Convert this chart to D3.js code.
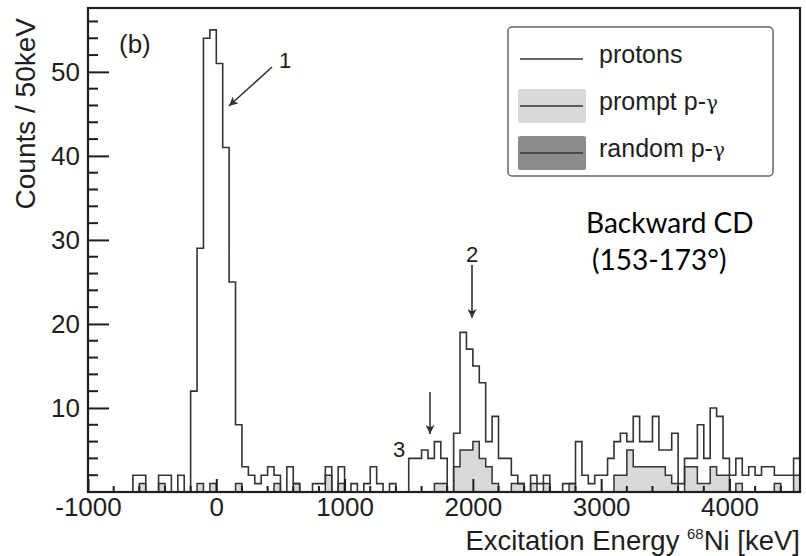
<!DOCTYPE html>
<html><head><meta charset="utf-8">
<script src="https://cdn.jsdelivr.net/npm/d3@7"></script>
<style>body{margin:0;background:#fff}</style>
</head><body>
<svg id="c" width="806" height="556"></svg>
<script>
// ---- data ----
const binStart = -1000;
const binWidth = 50;
// protons, counts per 50 keV bin from -1000 keV
const protons = [
 0,0,0,0,0,0,0,2,2,0,
 0,2,2,0,2,0,12,29,54,55,
 51,41,25,8,3,2,1,2,3,2,
 0,3,1,0,0,1,1,3,0,3,
 0,1,0,1,3,1,0,1,0,0,
 4,4,5,4,6,4,0,7,19,17,
 15,13,6,9,4,4,2,1,0,2,
 1,2,0,0,1,1,6,2,1,2,
 2,4,6,7,6,9,6,6,9,5,
 5,7,1,4,4,8,4,10,9,4,
 2,4,2,3,2,3,3,2,2,2,
 4
];
// prompt p-gamma coincidences
const prompt = [
 0,0,0,0,0,0,0,0,1,0,
 0,1,0,0,0,0,0,1,0,1,
 0,0,0,1,0,0,0,0,0,1,
 0,0,1,0,0,0,0,2,0,1,
 0,0,0,0,0,0,0,0,0,0,
 0,0,0,0,1,1,0,3,5,5,
 6,4,3,1,0,0,1,1,0,1,
 0,1,0,0,0,1,0,0,0,0,
 0,0,2,2,5,3,3,3,3,3,
 2,1,0,3,3,1,1,3,2,2,
 0,1,0,0,0,0,0,1,0,0,
 2
];
// random p-gamma coincidences (not visible above zero)
const random = new Array(protons.length).fill(0);
const xTickValues = [-1000, 0, 1000, 2000, 3000, 4000];
const yTickValues = [10, 20, 30, 40, 50];
const legendLabels = ["protons", "prompt p-", "random p-"];

// ---- layout ----
const svg = d3.select("#c");
const L = 88, R = 800, T = 8, B = 492;
const x = d3.scaleLinear().domain([-1000, 4550]).range([L, R]);
const y = d3.scaleLinear().domain([0, 57.6]).range([B, T]);
const ink = "#1e1e1e";
const font = "'Liberation Sans', Arimo, Arial, sans-serif";

function stepPoints(vals) {
  const pts = vals.map((v, i) => [binStart + i * binWidth, v]);
  pts.push([binStart + vals.length * binWidth, vals[vals.length - 1]]);
  return pts;
}
const area = d3.area().curve(d3.curveStepAfter).x(d => x(d[0])).y0(y(0)).y1(d => y(d[1]));
const line = d3.line().curve(d3.curveStepAfter).x(d => x(d[0])).y(d => y(d[1]));

const plot = svg.append("g");
plot.append("path").attr("d", area(stepPoints(prompt))).attr("fill", "#d9d9d9").attr("stroke", "none");
plot.append("path").attr("d", line(stepPoints(prompt))).attr("fill", "none").attr("stroke", "#333").attr("stroke-width", 1.5);
plot.append("path").attr("d", area(stepPoints(random))).attr("fill", "#8c8c8c").attr("stroke", "none");
plot.append("path").attr("d", line(stepPoints(protons))).attr("fill", "none").attr("stroke", "#333").attr("stroke-width", 1.6);

// ---- axes ----
const yAxis = d3.axisLeft(y).tickValues(yTickValues).tickSize(-21).tickPadding(0).tickFormat(d => String(d));
const gy = svg.append("g").attr("transform", `translate(${L},0)`).call(yAxis);
gy.select(".domain").remove();
gy.selectAll(".tick line").attr("stroke", ink).attr("stroke-width", 2);
gy.selectAll(".tick text").attr("x", -8).attr("font-family", font).attr("font-size", 26).attr("fill", ink);
const yMinor = d3.range(2, 57, 2).filter(v => v % 10 !== 0);
svg.append("g").selectAll("line").data(yMinor).join("line")
  .attr("x1", L).attr("x2", L + 10).attr("y1", d => y(d)).attr("y2", d => y(d))
  .attr("stroke", ink).attr("stroke-width", 2);

const xAxis = d3.axisBottom(x).tickValues(xTickValues).tickSize(-13).tickPadding(0).tickFormat(d => String(d));
const gx = svg.append("g").attr("transform", `translate(0,${B})`).call(xAxis);
gx.select(".domain").remove();
gx.selectAll(".tick line").attr("stroke", ink).attr("stroke-width", 2);
gx.selectAll(".tick text").attr("y", 6).attr("font-family", font).attr("font-size", 26).attr("fill", ink);
const xMinor = d3.range(-800, 4550, 200).filter(v => v % 1000 !== 0);
svg.append("g").selectAll("line").data(xMinor).join("line")
  .attr("x1", d => x(d)).attr("x2", d => x(d)).attr("y1", B).attr("y2", B - 6)
  .attr("stroke", ink).attr("stroke-width", 2);

// frame
svg.append("rect").attr("x", L).attr("y", T).attr("width", R - L).attr("height", B - T)
  .attr("fill", "none").attr("stroke", ink).attr("stroke-width", 2.2);

// axis titles
svg.append("text").attr("transform", `translate(35,18) rotate(-90)`).attr("text-anchor", "end")
  .attr("font-family", font).attr("font-size", 28).attr("fill", ink).text("Counts / 50keV");
const xt = svg.append("text").attr("x", R).attr("y", 550).attr("text-anchor", "end")
  .attr("font-family", font).attr("font-size", 27.5).attr("fill", ink);
xt.append("tspan").text("Excitation Energy ");
xt.append("tspan").attr("font-size", 15).attr("dy", -11).text("68");
xt.append("tspan").attr("dy", 11).text("Ni [keV]");

// panel label
svg.append("text").attr("x", 119).attr("y", 53).attr("font-family", font).attr("font-size", 26).attr("fill", ink).text("(b)");

// ---- legend ----
const lg = svg.append("g");
lg.append("rect").attr("x", 508).attr("y", 27).attr("width", 265).attr("height", 149).attr("rx", 4)
  .attr("fill", "#fff").attr("stroke", "#666").attr("stroke-width", 1.5);
const rows = [59, 106, 153];
lg.append("line").attr("x1", 520).attr("x2", 583).attr("y1", rows[0]).attr("y2", rows[0]).attr("stroke", "#333").attr("stroke-width", 1.5);
lg.append("rect").attr("x", 518).attr("y", 89).attr("width", 68).attr("height", 34).attr("rx", 2).attr("fill", "#d9d9d9");
lg.append("line").attr("x1", 520).attr("x2", 583).attr("y1", rows[1]).attr("y2", rows[1]).attr("stroke", "#333").attr("stroke-width", 1.5);
lg.append("rect").attr("x", 518).attr("y", 136).attr("width", 68).attr("height", 34).attr("rx", 2).attr("fill", "#8c8c8c");
lg.append("line").attr("x1", 520).attr("x2", 583).attr("y1", rows[2]).attr("y2", rows[2]).attr("stroke", "#333").attr("stroke-width", 1.5);
legendLabels.forEach((t, i) => {
  const tx = lg.append("text").attr("x", 599).attr("y", rows[i] + 4).attr("font-family", font).attr("font-size", 25).attr("fill", ink).text(t);
  if (i > 0) tx.append("tspan").attr("font-family", "'DejaVu Serif', serif").attr("font-size", 20).text("γ");
});

// ---- annotations ----
svg.append("defs").append("marker").attr("id", "ah").attr("viewBox", "0 0 10 10").attr("refX", 10).attr("refY", 5)
  .attr("markerWidth", 9).attr("markerHeight", 9).attr("markerUnits", "userSpaceOnUse").attr("orient", "auto")
  .append("path").attr("d", "M0,0L10,5L0,10L2.5,5Z").attr("fill", "#333");
const arrows = [[272, 67, 229, 106], [472, 265, 472, 318], [430, 392, 430, 434]];
arrows.forEach(a => svg.append("line").attr("x1", a[0]).attr("y1", a[1]).attr("x2", a[2]).attr("y2", a[3])
  .attr("stroke", "#333").attr("stroke-width", 1.6).attr("marker-end", "url(#ah)"));
[["1", 285, 68], ["2", 472, 262], ["3", 399, 457]].forEach(d =>
  svg.append("text").attr("x", d[1]).attr("y", d[2]).attr("text-anchor", "middle").attr("font-family", font)
    .attr("font-size", 22).attr("fill", ink).text(d[0]));

svg.append("text").attr("x", 586).attr("y", 233).attr("font-family", "Lato, 'Open Sans', sans-serif").attr("font-size", 28).attr("fill", "#000").text("Backward CD");
svg.append("text").attr("x", 592).attr("y", 270).attr("font-family", "Lato, 'Open Sans', sans-serif").attr("font-size", 28).attr("fill", "#000").text("(153-173°)");
</script>
</body></html>
